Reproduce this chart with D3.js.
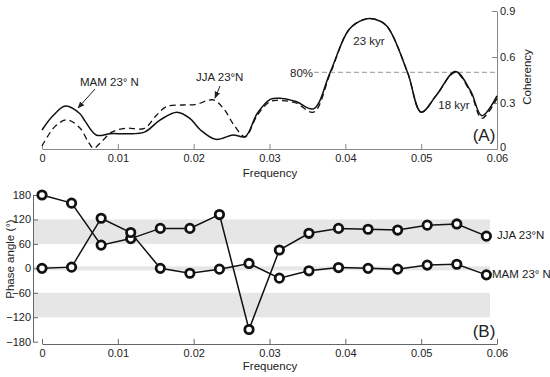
<!DOCTYPE html>
<html>
<head>
<script src="https://d3js.org/d3.v7.min.js"></script>
<style>
  body { margin: 0; background: #fff; }
  svg { font-family: "Liberation Sans", Arial, sans-serif; }
  text { fill: #222; }
</style>
</head>
<body>
<svg width="550" height="377"></svg>
<script>
// ---- panel A: coherency spectra ----
const mamFreq = [0, 0.0015, 0.0031, 0.0050, 0.0057, 0.0072, 0.0090, 0.0110, 0.0135, 0.0156, 0.0178, 0.0195, 0.0209, 0.0229, 0.0250, 0.0255, 0.0268, 0.0284, 0.0301, 0.0316, 0.0335, 0.0358, 0.0380, 0.0405, 0.0425, 0.0440, 0.0455, 0.0482, 0.0500, 0.0520, 0.0545, 0.0565, 0.0580, 0.0600];
const mamCoh  = [0.124, 0.22, 0.28, 0.23, 0.18, 0.09, 0.10, 0.10, 0.11, 0.19, 0.24, 0.20, 0.124, 0.063, 0.09, 0.09, 0.08, 0.233, 0.324, 0.33, 0.31, 0.262, 0.50, 0.78, 0.845, 0.845, 0.80, 0.50, 0.24, 0.35, 0.505, 0.38, 0.217, 0.346];

const jjaFreq = [0, 0.0017, 0.0033, 0.0050, 0.0061, 0.0068, 0.0077, 0.0092, 0.0110, 0.0135, 0.0151, 0.0164, 0.0185, 0.0202, 0.0226, 0.0240, 0.0253, 0.0268, 0.0284, 0.0301, 0.0316, 0.0335, 0.0358, 0.0380, 0.0405, 0.0425, 0.0440, 0.0455, 0.0482, 0.0500, 0.0520, 0.0545, 0.0565, 0.0580, 0.0600];
const jjaCoh  = [0.02, 0.146, 0.19, 0.137, 0.047, 0.005, 0.04, 0.11, 0.135, 0.135, 0.22, 0.276, 0.287, 0.29, 0.32, 0.26, 0.157, 0.08, 0.22, 0.31, 0.315, 0.30, 0.24, 0.49, 0.78, 0.845, 0.845, 0.80, 0.50, 0.24, 0.35, 0.50, 0.37, 0.20, 0.33];

const cohTicks = [0, 0.3, 0.6, 0.9];
const sigLevel = 0.5;

// ---- panel B: phase angles ----
const phaseFreq = [0, 0.0039, 0.0078, 0.0117, 0.0156, 0.0195, 0.0234, 0.0273, 0.0313, 0.0352, 0.0391, 0.0430, 0.0469, 0.0508, 0.0547, 0.0586];
const jjaPhase  = [180, 160, 57, 73, 98, 98, 132, -150, 45, 86, 98, 96, 94, 106, 109, 79];
const mamPhase  = [0, 3, 123, 88, 0, -12, -2, 12, -24, -6, 2, 0, -2, 8, 10, -16];

const phaseTicks = [-180, -120, -60, 0, 60, 120, 180];
const freqTicks = [0, 0.01, 0.02, 0.03, 0.04, 0.05, 0.06];
const bands = [[60, 120], [-5, 5], [-120, -60]];

const svg = d3.select("svg");

svg.append("defs").append("marker")
  .attr("id", "arrow")
  .attr("viewBox", "0 0 10 10")
  .attr("refX", 9).attr("refY", 5)
  .attr("markerWidth", 7).attr("markerHeight", 7)
  .attr("orient", "auto")
  .append("path").attr("d", "M0,1 L10,5 L0,9 Z").attr("fill", "#222");

const fmtFreq = d => d === 0 ? "0" : d3.format(".2f")(d);

// ===== Panel A =====
const xA = d3.scaleLinear([0, 0.06], [42, 497]);
const yA = d3.scaleLinear([0, 0.9], [149, 11]);

// 80% line
svg.append("line")
  .attr("x1", 314).attr("x2", xA(0.06))
  .attr("y1", yA(sigLevel)).attr("y2", yA(sigLevel))
  .attr("stroke", "#aaa").attr("stroke-width", 1.2)
  .attr("stroke-dasharray", "5,3");

// x axis A
const gxA = svg.append("g").attr("transform", "translate(0,149)");
gxA.call(d3.axisBottom(xA).tickValues(d3.range(0, 0.0601, 0.002)).tickFormat("").tickSizeInner(-2.5).tickSizeOuter(0));
gxA.call(d3.axisBottom(xA).tickValues(freqTicks).tickFormat(fmtFreq).tickSizeInner(-5).tickSizeOuter(0).tickPadding(5));

// y axis A (right)
const gyA = svg.append("g").attr("transform", "translate(497,0)");
gyA.call(d3.axisRight(yA).tickValues(d3.range(0, 0.901, 0.1)).tickFormat("").tickSizeInner(-2.5).tickSizeOuter(0));
gyA.call(d3.axisRight(yA).tickValues(cohTicks).tickFormat(d => d === 0 ? "0" : d3.format(".1f")(d)).tickSizeInner(-5).tickSizeOuter(0).tickPadding(3));
gyA.selectAll(".tick text").filter(d => d === 0).attr("dy", "0.1em");

[gxA, gyA].forEach(g => {
  g.selectAll("path, line").attr("stroke", "#888");
  g.selectAll("text").attr("font-size", 11).attr("fill", "#222").attr("font-family", "Liberation Sans, Arial, sans-serif");
});

const lineA = d3.line().curve(d3.curveCatmullRom.alpha(0.5));

svg.append("path")
  .attr("d", lineA(jjaFreq.map((f, i) => [xA(f), yA(jjaCoh[i])])))
  .attr("fill", "none").attr("stroke", "#111").attr("stroke-width", 1.3)
  .attr("stroke-dasharray", "6,4");

svg.append("path")
  .attr("d", lineA(mamFreq.map((f, i) => [xA(f), yA(mamCoh[i])])))
  .attr("fill", "none").attr("stroke", "#111").attr("stroke-width", 1.5);

svg.append("text").attr("x", 270).attr("y", 177).attr("text-anchor", "middle").attr("font-size", 11.5).text("Frequency");
svg.append("text").attr("transform", "translate(531,77) rotate(-90)").attr("text-anchor", "middle").attr("font-size", 11.5).text("Coherency");
svg.append("text").attr("x", 484).attr("y", 141).attr("text-anchor", "middle").attr("font-size", 17).text("(A)");

svg.append("text").attr("x", 80).attr("y", 86).attr("font-size", 11.5).text("MAM 23° N");
svg.append("line").attr("x1", 95).attr("y1", 89).attr("x2", 78).attr("y2", 108)
  .attr("stroke", "#222").attr("stroke-width", 1).attr("marker-end", "url(#arrow)");
svg.append("text").attr("x", 196).attr("y", 81).attr("font-size", 11.5).text("JJA 23°N");
svg.append("line").attr("x1", 220).attr("y1", 86).attr("x2", 215).attr("y2", 98)
  .attr("stroke", "#222").attr("stroke-width", 1).attr("marker-end", "url(#arrow)");

svg.append("text").attr("x", 290).attr("y", 77).attr("font-size", 11.5).text("80%");
svg.append("text").attr("x", 369).attr("y", 45).attr("text-anchor", "middle").attr("font-size", 11.5).text("23 kyr");
svg.append("text").attr("x", 454).attr("y", 109).attr("text-anchor", "middle").attr("font-size", 11.5).text("18 kyr");

// ===== Panel B =====
const xB = d3.scaleLinear([0, 0.06], [42, 497]);
const yB = d3.scaleLinear([-180, 180], [341.7, 195]);

svg.append("g").selectAll("rect")
  .data(bands).join("rect")
  .attr("x", 33).attr("width", 490 - 33)
  .attr("y", d => yB(d[1])).attr("height", d => yB(d[0]) - yB(d[1]))
  .attr("fill", "#e6e6e6");

const gxB = svg.append("g").attr("transform", "translate(0,344)");
gxB.call(d3.axisBottom(xB).tickValues(d3.range(0, 0.0601, 0.002)).tickFormat("").tickSizeInner(-2.5).tickSizeOuter(0));
gxB.call(d3.axisBottom(xB).tickValues(freqTicks).tickFormat(fmtFreq).tickSizeInner(-5).tickSizeOuter(0).tickPadding(5));

const gyB = svg.append("g").attr("transform", "translate(33,0)");
gyB.call(d3.axisLeft(yB).tickValues(d3.range(-180, 181, 20)).tickFormat("").tickSizeInner(-2.5).tickSizeOuter(0));
gyB.call(d3.axisLeft(yB).tickValues(phaseTicks).tickFormat(d3.format("d")).tickSizeInner(-5).tickSizeOuter(0).tickPadding(2));

[gxB, gyB].forEach(g => {
  g.selectAll("path, line").attr("stroke", "#666");
  g.selectAll("text").attr("font-size", 11).attr("fill", "#222").attr("font-family", "Liberation Sans, Arial, sans-serif");
});

const lineB = d3.line();
[jjaPhase, mamPhase].forEach(series => {
  svg.append("path")
    .attr("d", lineB(phaseFreq.map((f, i) => [xB(f), yB(series[i])])))
    .attr("fill", "none").attr("stroke", "#111").attr("stroke-width", 1.5);
});
[jjaPhase, mamPhase].forEach(series => {
  svg.append("g").selectAll("circle")
    .data(phaseFreq).join("circle")
    .attr("cx", d => xB(d)).attr("cy", (d, i) => yB(series[i]))
    .attr("r", 4.2)
    .attr("fill", "#fff").attr("stroke", "#111").attr("stroke-width", 2.8);
});

svg.append("text").attr("x", 497).attr("y", 239).attr("font-size", 11.5).text("JJA 23°N");
svg.append("text").attr("x", 492).attr("y", 278).attr("font-size", 11.5).text("MAM 23° N");

svg.append("text").attr("x", 270).attr("y", 370).attr("text-anchor", "middle").attr("font-size", 11.5).text("Frequency");
svg.append("text").attr("transform", "translate(14,259) rotate(-90)").attr("text-anchor", "middle").attr("font-size", 11.5).text("Phase angle (°)");
svg.append("text").attr("x", 484).attr("y", 337).attr("text-anchor", "middle").attr("font-size", 17).text("(B)");
</script>
</body>
</html>
